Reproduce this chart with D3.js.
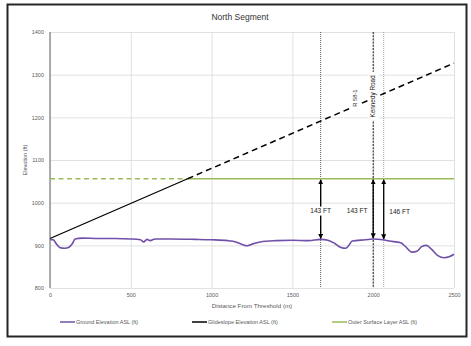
<!DOCTYPE html>
<html>
<head>
<meta charset="utf-8">
<script src="https://cdn.jsdelivr.net/npm/d3@7"></script>
<style>
  body { margin: 0; background: #fff; }
  text { font-family: "Liberation Sans", Arial, sans-serif; }
</style>
</head>
<body>
<svg width="471" height="346"></svg>
<script>
// ground profile along the runway extension (m, ft)
var groundDist = [0, 20, 40, 60, 90, 120, 140, 155, 200, 300, 400, 500, 560, 580, 600, 620, 650, 750,
  900, 1000, 1100, 1150, 1190, 1220, 1260, 1300, 1400, 1500, 1600, 1675, 1720, 1760, 1800, 1830,
  1850, 1870, 1950, 2000, 2060, 2100, 2170, 2200, 2240, 2270, 2300, 2330, 2360, 2400, 2440, 2470, 2500];
var groundElev = [914, 913, 903, 895, 893, 896, 905, 915, 917, 916, 916, 915, 913, 908, 914, 911, 915, 915,
  914, 913, 911, 908, 902, 899, 904, 908, 911, 912, 911, 914, 912, 905, 895, 893,
  900, 910, 913, 915, 913, 910, 906, 897, 884, 886, 897, 900, 891, 876, 871, 873, 879];

var glideDist = [0, 2500];
var glideElev = [916, 1327];
var oslElev = 1056;

var markerDist = [1675, 2000, 2065];
var markerStyle = ["dot", "dash", "light"];
var clearanceText = ["143 FT", "143 FT", "146 FT"];
var clearanceSide = [0, -1, 1];

// rotated labels: text, distance (m), elevation (ft) of the label centre
var noteText = ["R 58-1", "Kennedy Road"];
var noteDist = [1887, 2000];
var noteElev = [1245, 1249];

var xTicks = [0, 500, 1000, 1500, 2000, 2500];
var yTicks = [800, 900, 1000, 1100, 1200, 1300, 1400];

var seriesNames = ["Ground Elevation ASL (ft)", "Glideslope Elevation ASL (ft)", "Outer Surface Layer ASL (ft)"];
var seriesColors = ["#7050a8", "#000000", "#9bbb59"];

var svg = d3.select("svg"),
    margin = {top: 32, right: 17, bottom: 58, left: 50},
    width = +svg.attr("width") - margin.left - margin.right,
    height = +svg.attr("height") - margin.top - margin.bottom;

svg.append("rect").attr("width", 471).attr("height", 346).attr("fill", "#fff");
// outer frame
svg.append("rect")
  .attr("x", 7.5).attr("y", 4.5).attr("width", 459).attr("height", 332)
  .attr("fill", "none").attr("stroke", "#262626").attr("stroke-width", 2);

svg.append("defs").append("marker")
  .attr("id", "ah").attr("viewBox", "0 0 10 10")
  .attr("refX", 9).attr("refY", 5)
  .attr("markerWidth", 4).attr("markerHeight", 4)
  .attr("orient", "auto-start-reverse")
  .append("path").attr("d", "M0,0L10,5L0,10z").attr("fill", "#000");

var g = svg.append("g").attr("transform", "translate(" + margin.left + "," + margin.top + ")");

var x = d3.scaleLinear().domain([0, 2500]).range([0, width]);
var y = d3.scaleLinear().domain([800, 1400]).range([height, 0]);

// grid
g.append("g")
  .call(d3.axisLeft(y).tickValues(yTicks).tickSize(-width).tickFormat(""))
  .call(function(s) { s.select(".domain").remove(); })
  .selectAll("line").attr("stroke", "#d9d9d9").attr("stroke-width", 0.8);
g.append("g")
  .attr("transform", "translate(0," + height + ")")
  .call(d3.axisBottom(x).tickValues(xTicks).tickSize(-height).tickFormat(""))
  .call(function(s) { s.select(".domain").remove(); })
  .selectAll("line").attr("stroke", "#d9d9d9").attr("stroke-width", 0.8);

// tick labels
var yAx = g.append("g")
  .call(d3.axisLeft(y).tickValues(yTicks).tickSize(0).tickPadding(6).tickFormat(d3.format("d")));
yAx.select(".domain").remove();
yAx.selectAll("text").attr("fill", "#595959").style("font-size", "5.5px");

var xAx = g.append("g")
  .attr("transform", "translate(0," + height + ")")
  .call(d3.axisBottom(x).tickValues(xTicks).tickSize(0).tickPadding(5).tickFormat(d3.format("d")));
xAx.select(".domain").remove();
xAx.selectAll("text").attr("fill", "#595959").style("font-size", "5.5px");

// left axis line
g.append("line").attr("x1", 0).attr("x2", 0).attr("y1", 0).attr("y2", height)
  .attr("stroke", "#8c8c8c").attr("stroke-width", 1.4);

// vertical marker lines
markerDist.forEach(function(d, i) {
  var st = markerStyle[i];
  g.append("line")
    .attr("x1", x(d)).attr("x2", x(d))
    .attr("y1", y(1400)).attr("y2", y(800))
    .attr("stroke", st == "dash" ? "#111" : (st == "dot" ? "#555" : "#999"))
    .attr("stroke-width", st == "light" ? 0.9 : 1)
    .attr("stroke-dasharray", st == "dash" ? "2,1.2" : "1,1");
});

// outer surface layer: dashed until the glideslope meets it, solid after
var slope = (glideElev[1] - glideElev[0]) / (glideDist[1] - glideDist[0]);
var meet = glideDist[0] + (oslElev - glideElev[0]) / slope;
var glideAt = function(m) { return glideElev[0] + slope * (m - glideDist[0]); };

g.append("line")
  .attr("x1", x(0)).attr("x2", x(meet)).attr("y1", y(oslElev)).attr("y2", y(oslElev))
  .attr("stroke", seriesColors[2]).attr("stroke-width", 1.3).attr("stroke-dasharray", "5,3.5");
g.append("line")
  .attr("x1", x(meet)).attr("x2", x(2500)).attr("y1", y(oslElev)).attr("y2", y(oslElev))
  .attr("stroke", seriesColors[2]).attr("stroke-width", 1.3);

// glideslope
g.append("line")
  .attr("x1", x(glideDist[0])).attr("y1", y(glideElev[0]))
  .attr("x2", x(meet)).attr("y2", y(glideAt(meet)))
  .attr("stroke", "#000").attr("stroke-width", 1.3);
g.append("line")
  .attr("x1", x(meet)).attr("y1", y(glideAt(meet)))
  .attr("x2", x(glideDist[1])).attr("y2", y(glideElev[1]))
  .attr("stroke", "#000").attr("stroke-width", 1.5).attr("stroke-dasharray", "6,4");

// ground profile
var ground = groundDist.map(function(d, i) { return {d: d, e: groundElev[i]}; });
var line = d3.line()
  .x(function(p) { return x(p.d); })
  .y(function(p) { return y(p.e); })
  .curve(d3.curveMonotoneX);
g.append("path").datum(ground)
  .attr("d", line).attr("fill", "none")
  .attr("stroke", seriesColors[0]).attr("stroke-width", 1.6);

// clearance arrows
var groundAt = d3.scaleLinear().domain(groundDist).range(groundElev);
markerDist.forEach(function(d, i) {
  var top = oslElev, bot = groundAt(d);
  g.append("line")
    .attr("x1", x(d)).attr("x2", x(d))
    .attr("y1", y(top) + 1).attr("y2", y(bot) - 1)
    .attr("stroke", "#000").attr("stroke-width", 1.3)
    .attr("marker-start", "url(#ah)").attr("marker-end", "url(#ah)");
  var tx = x(d) + clearanceSide[i] * 16;
  var ty = y((top + bot) / 2) + 2;
  if (clearanceSide[i] == 0) {
    g.append("rect").attr("x", tx - 11).attr("y", ty - 4.5).attr("width", 22).attr("height", 9).attr("fill", "#fff");
  }
  g.append("text")
    .attr("x", tx).attr("y", ty).attr("dy", "0.35em")
    .attr("text-anchor", "middle")
    .style("font-size", "6.6px").attr("fill", "#222")
    .text(clearanceText[i]);
});

// rotated annotations on white boxes
noteText.forEach(function(t, i) {
  var ng = g.append("g")
    .attr("transform", "translate(" + x(noteDist[i]) + "," + y(noteElev[i]) + ") rotate(-90)");
  var txt = ng.append("text")
    .attr("text-anchor", "middle").attr("dy", "0.35em")
    .style("font-size", i == 1 ? "6.4px" : "5.8px").attr("fill", "#222")
    .text(t);
  var bb = txt.node().getBBox();
  ng.insert("rect", "text")
    .attr("x", bb.x - 3).attr("y", bb.y - 1.5)
    .attr("width", bb.width + 6).attr("height", bb.height + 3)
    .attr("fill", "#fff");
});

// titles
svg.append("text")
  .attr("x", 240).attr("y", 20)
  .attr("text-anchor", "middle").style("font-size", "8.5px").attr("fill", "#333")
  .text("North Segment");
svg.append("text")
  .attr("transform", "translate(27," + (margin.top + height / 2) + ") rotate(-90)")
  .attr("text-anchor", "middle").style("font-size", "5.5px").attr("fill", "#595959")
  .text("Elevation (ft)");
svg.append("text")
  .attr("x", margin.left + width / 2).attr("y", 308)
  .attr("text-anchor", "middle").style("font-size", "6.2px").attr("fill", "#595959")
  .text("Distance From Threshold (m)");

// legend
var legendX = [60, 192, 332];
seriesNames.forEach(function(n, i) {
  var lg = svg.append("g").attr("transform", "translate(" + legendX[i] + ",322)");
  lg.append("line").attr("x1", 0).attr("x2", 15).attr("y1", 0).attr("y2", 0)
    .attr("stroke", seriesColors[i]).attr("stroke-width", 1.5);
  lg.append("text").attr("x", 16).attr("y", 0).attr("dy", "0.35em")
    .style("font-size", "5.5px").attr("fill", "#595959").text(n);
});
</script>
</body>
</html>
